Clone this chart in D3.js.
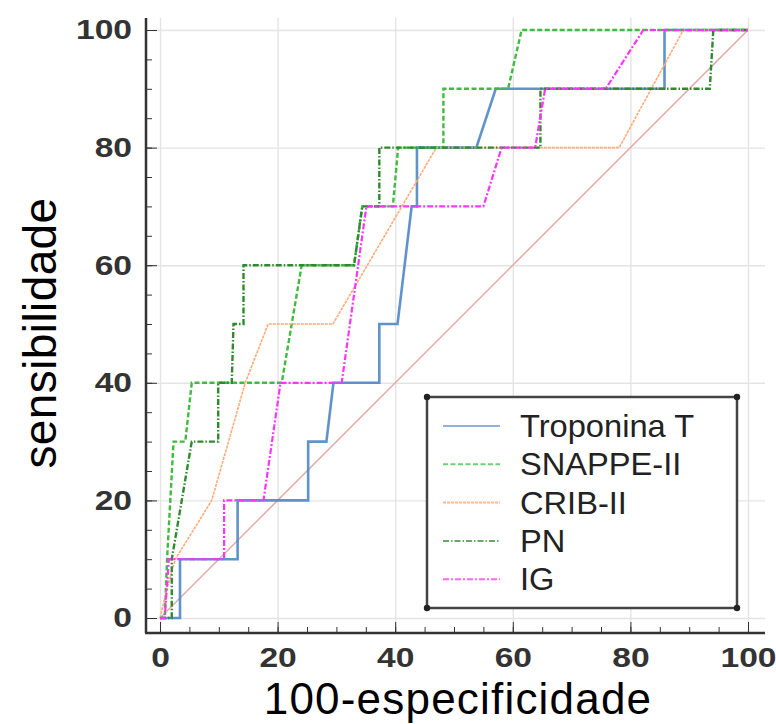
<!DOCTYPE html>
<html>
<head>
<meta charset="utf-8">
<script src="https://cdn.jsdelivr.net/npm/d3@7"></script>
<style>
  body { margin: 0; background: #fff; }
  text { font-family: "Liberation Sans", Arial, Helvetica, sans-serif; }
</style>
</head>
<body>
<div id="chart"></div>
<script>
// ROC curves, values (x = 100-especificidade, y = sensibilidade)
var tropX = [0, 3.4, 3.4, 13.2, 13.2, 25.2, 25.2, 28.3, 29.5, 37.3, 37.3, 40.4, 42.8, 43.7, 43.7, 53.8, 57.1, 85.8, 85.8, 100];
var tropY = [0, 0, 10, 10, 20, 20, 30, 30, 40, 40, 50, 50, 70, 70, 80, 80, 90, 90, 100, 100];

var snappeX = [0, 0.8, 1.2, 2.3, 4.3, 5.4, 20.7, 24.1, 33, 34.4, 39.6, 40.5, 48.2, 48.2, 59.2, 61.5, 100];
var snappeY = [0, 0, 10, 30, 30, 40, 40, 60, 60, 70, 70, 80, 80, 90, 90, 100, 100];

var cribX = [0, 1.2, 2.6, 8.8, 14.5, 18.4, 29.4, 47, 78.1, 89, 100];
var cribY = [0, 5, 10, 20, 40, 50, 50, 80, 80, 100, 100];

var pnX = [0, 2, 2, 5.4, 9.9, 9.9, 12.2, 12.5, 14.2, 14.2, 33, 34.4, 37.3, 37.3, 64.7, 64.7, 93.5, 94.1, 100];
var pnY = [0, 0, 10, 30, 30, 40, 40, 50, 50, 60, 60, 70, 70, 80, 80, 90, 90, 100, 100];

var igX = [0, 0.8, 1.5, 10.9, 10.9, 17.6, 20.5, 30.9, 35.1, 55, 58.1, 63.8, 65.5, 75.8, 82.2, 100];
var igY = [0, 0, 10, 10, 20, 20, 40, 40, 70, 70, 80, 80, 90, 90, 100, 100];

var seriesNames = ["Troponina T", "SNAPPE-II", "CRIB-II", "PN", "IG"];
var tickValues = [0, 20, 40, 60, 80, 100];

var styles = {
    "Troponina T": { color: "#4f86c6", width: 2.6, dash: null, legendColor: "#8fb2dc", opacity: 0.9 },
    "SNAPPE-II":   { color: "#3fbb3f", width: 2.4, dash: "5,2.5", legendColor: "#6fcf6f", opacity: 1 },
    "CRIB-II":     { color: "#ffaa78", width: 1.6, dash: "3,1", legendColor: "#ffb890", opacity: 1 },
    "PN":          { color: "#2f8a2f", width: 2.4, dash: "6,2,1.5,2", legendColor: "#6aa86a", opacity: 1 },
    "IG":          { color: "#ff33ff", width: 2.2, dash: "6,2,2,2", legendColor: "#ff66ff", opacity: 1 }
};

var data = [
    { name: "Troponina T", xs: tropX, ys: tropY },
    { name: "SNAPPE-II", xs: snappeX, ys: snappeY },
    { name: "CRIB-II", xs: cribX, ys: cribY },
    { name: "PN", xs: pnX, ys: pnY },
    { name: "IG", xs: igX, ys: igY }
].map(function(s) {
    return { name: s.name, points: s.xs.map(function(v, i) { return [v, s.ys[i]]; }) };
});

var width = 776, height = 724;
var axisX = 146, axisY = 633, plotTop = 18, plotRight = 765;
var labelStretch = 1.2;   // tick labels in the picture are wide and heavy

var x = d3.scaleLinear().domain([0, 100]).range([160, 748]);
var y = d3.scaleLinear().domain([0, 100]).range([618, 30]);

var svg = d3.select('#chart')
    .append('svg')
    .attr('width', width)
    .attr('height', height);

// grid
svg.append('g')
    .attr('transform', 'translate(0,' + axisY + ')')
    .call(d3.axisBottom(x).tickValues(tickValues).tickSize(-(axisY - plotTop)).tickFormat(''))
    .call(function(g) { g.select('.domain').remove(); })
    .selectAll('line').attr('stroke', '#e4e4e4').attr('stroke-width', 1.4);

svg.append('g')
    .attr('transform', 'translate(' + axisX + ',0)')
    .call(d3.axisLeft(y).tickValues(tickValues).tickSize(-(plotRight - axisX)).tickFormat(''))
    .call(function(g) { g.select('.domain').remove(); })
    .selectAll('line').attr('stroke', '#e4e4e4').attr('stroke-width', 1.4);

// diagonal reference
svg.append('line')
    .attr('x1', x(0)).attr('y1', y(0))
    .attr('x2', x(100)).attr('y2', y(100))
    .attr('stroke', '#deaaa8')
    .attr('stroke-width', 1.5);

// curves
var line = d3.line()
    .x(function(d) { return x(d[0]); })
    .y(function(d) { return y(d[1]); });

svg.selectAll('path.curve')
    .data(data)
    .enter()
    .append('path')
    .attr('class', 'curve')
    .attr('d', function(d) { return line(d.points); })
    .attr('fill', 'none')
    .attr('stroke', function(d) { return styles[d.name].color; })
    .attr('stroke-width', function(d) { return styles[d.name].width; })
    .attr('stroke-opacity', function(d) { return styles[d.name].opacity; })
    .attr('stroke-dasharray', function(d) { return styles[d.name].dash; });

// axes: minor ticks, major ticks with labels
var minor = d3.range(0, 101, 5);

svg.append('g')
    .attr('transform', 'translate(' + axisX + ',0)')
    .call(d3.axisLeft(y).tickValues(minor).tickSize(-6).tickFormat(''))
    .call(function(g) { g.select('.domain').remove(); })
    .selectAll('line').attr('stroke', '#333');

svg.append('g')
    .attr('transform', 'translate(0,' + axisY + ')')
    .call(d3.axisBottom(x).tickValues(minor).tickSize(-6).tickFormat(''))
    .call(function(g) { g.select('.domain').remove(); })
    .selectAll('line').attr('stroke', '#333');

var yAxis = svg.append('g')
    .attr('transform', 'translate(' + axisX + ',0)')
    .call(d3.axisLeft(y).tickValues(tickValues).tickSize(-11).tickPadding(14));
yAxis.select('.domain').remove();
yAxis.selectAll('line').attr('stroke', '#333');
yAxis.selectAll('text')
    .attr('x', -14 / labelStretch)
    .attr('transform', 'scale(' + labelStretch + ',1)')
    .attr('font-size', 28)
    .attr('font-weight', 'bold')
    .attr('fill', '#333')
    .attr('font-family', '"Liberation Sans", Arial, sans-serif');

var xAxis = svg.append('g')
    .attr('transform', 'translate(0,' + axisY + ')')
    .call(d3.axisBottom(x).tickValues(tickValues).tickSize(-11).tickPadding(14));
xAxis.select('.domain').remove();
xAxis.selectAll('line').attr('stroke', '#333');
xAxis.selectAll('text')
    .attr('transform', 'scale(' + labelStretch + ',1)')
    .attr('font-size', 28)
    .attr('font-weight', 'bold')
    .attr('fill', '#333')
    .attr('font-family', '"Liberation Sans", Arial, sans-serif');

// axis lines
svg.append('line')
    .attr('x1', axisX).attr('y1', plotTop)
    .attr('x2', axisX).attr('y2', axisY)
    .attr('stroke', '#333').attr('stroke-width', 2.5);
svg.append('line')
    .attr('x1', axisX - 1).attr('y1', axisY)
    .attr('x2', plotRight).attr('y2', axisY)
    .attr('stroke', '#333').attr('stroke-width', 2.5);

// axis titles
svg.append('text')
    .attr('x', 458).attr('y', 714)
    .attr('text-anchor', 'middle')
    .attr('font-size', 44)
    .attr('letter-spacing', 1.2)
    .attr('fill', '#000')
    .text('100-especificidade');

svg.append('text')
    .attr('transform', 'translate(56,333) rotate(-90)')
    .attr('text-anchor', 'middle')
    .attr('font-size', 46)
    .attr('letter-spacing', 0.4)
    .attr('fill', '#000')
    .text('sensibilidade');

// legend
var lg = svg.append('g');
var box = { x0: 427, y0: 397, x1: 737, y1: 608 };
lg.append('rect')
    .attr('x', box.x0).attr('y', box.y0)
    .attr('width', box.x1 - box.x0).attr('height', box.y1 - box.y0)
    .attr('fill', '#fff')
    .attr('stroke', '#444')
    .attr('stroke-width', 2.5);
[[box.x0, box.y0], [box.x1, box.y0], [box.x0, box.y1], [box.x1, box.y1]].forEach(function(c) {
    lg.append('circle').attr('cx', c[0]).attr('cy', c[1]).attr('r', 3.2).attr('fill', '#222');
});

var rows = lg.selectAll('g.row')
    .data(seriesNames)
    .enter()
    .append('g')
    .attr('class', 'row')
    .attr('transform', function(d, i) { return 'translate(0,' + (426 + i * 38.3) + ')'; });

rows.append('line')
    .attr('x1', 443).attr('x2', 500)
    .attr('stroke', function(d) { return styles[d].legendColor; })
    .attr('stroke-width', 2)
    .attr('stroke-dasharray', function(d) { return styles[d].dash; });

rows.append('text')
    .attr('x', 520 / 1.07)
    .attr('dy', '0.36em')
    .attr('transform', 'scale(1.07,1)')
    .attr('font-size', 30.5)
    .attr('fill', '#222')
    .text(function(d) { return d; });
</script>
</body>
</html>
